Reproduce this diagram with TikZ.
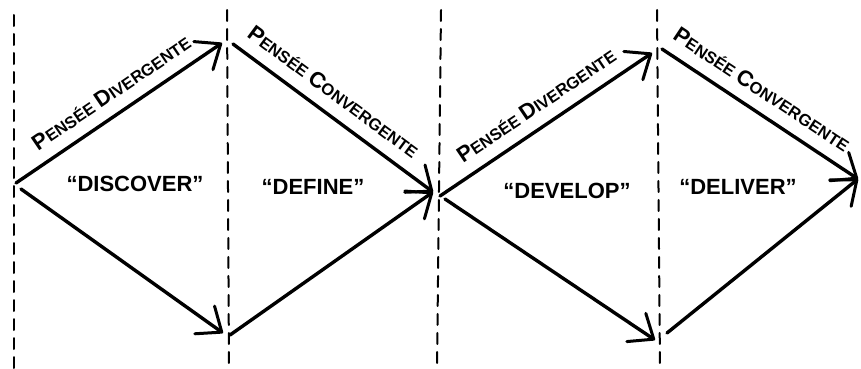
\documentclass[tikz,border=0pt]{standalone}
\usepackage{fontspec}
\setmainfont{Liberation Sans}
\usetikzlibrary{arrows.meta}

% first letter of a word a bit taller than the rest
\newcommand{\capletter}[1]{{\fontsize{22}{22}\selectfont #1}}

\begin{document}
\begin{tikzpicture}[x=1pt, y=-1pt, line cap=round]
      % fixed frame so the dashed lines run out at the lower edge
      \useasboundingbox (0,0) rectangle (861,369);
      \tikzstyle{phase} = [draw, line width=2pt, dash pattern=on 11pt off 8pt]
      \tikzstyle{line} = [draw, line width=3.4pt, -{Straight Barb[length=21pt,width=34pt,line width=3pt,round]}]
      \tikzstyle{thought} = [sloped, above=11pt, inner sep=1pt, font=\bfseries\fontsize{16.5}{16.5}\selectfont]
      \tikzstyle{stage} = [font=\bfseries\fontsize{22}{22}\selectfont]
        % phase boundaries
        \foreach \name/\xtop/\xbot/\ytop in {p0/14/14/15, p1/227/229/10, p2/441/437/10, p3/657/660/10} {
          \coordinate (\name top) at (\xtop,\ytop);
          \coordinate (\name bot) at (\xbot,369);
          \path [phase] (\name top) -- (\name bot);
        }
        % ends of the two diamonds
        \coordinate (start up) at (16,183);
        \coordinate (start down) at (21,189);
        \coordinate (top1 in) at (222,43);
        \coordinate (top1 out) at (233,44);
        \coordinate (low1 in) at (223,333);
        \coordinate (low1 out) at (230,335);
        \coordinate (mid in) at (433,192);
        \coordinate (mid up) at (440,196);
        \coordinate (mid down) at (445,199);
        \coordinate (top2 in) at (652,53);
        \coordinate (top2 out) at (662,49);
        \coordinate (low2 in) at (655,340);
        \coordinate (low2 out) at (667,333);
        \coordinate (finish) at (858,179);
        \node [stage] (discover) at (135,184) {``DISCOVER''};
        \node [stage] (define) at (313,187) {``DEFINE''};
        \node [stage] (develop) at (567,191) {``DEVELOP''};
        \node [stage] (deliver) at (738,187) {``DELIVER''};
        \path [line] (start up) -- node [thought, pos=0.52] {\capletter{P}ENSÉE \capletter{D}IVERGENTE} (top1 in);
        \path [line] (start down) -- (low1 in);
        \path [line] (top1 out) -- node [thought, pos=0.44] {\capletter{P}ENSÉE \capletter{C}ONVERGENTE} (mid in);
        \path [line] (low1 out) -- (mid in);
        \path [line] (mid up) -- node [thought, pos=0.51] {\capletter{P}ENSÉE \capletter{D}IVERGENTE} (top2 in);
        \path [line] (mid down) -- (low2 in);
        \path [line] (top2 out) -- node [thought, pos=0.45] {\capletter{P}ENSÉE \capletter{C}ONVERGENTE} (finish);
        \path [line] (low2 out) -- (finish);
      \end{tikzpicture}
\end{document}
